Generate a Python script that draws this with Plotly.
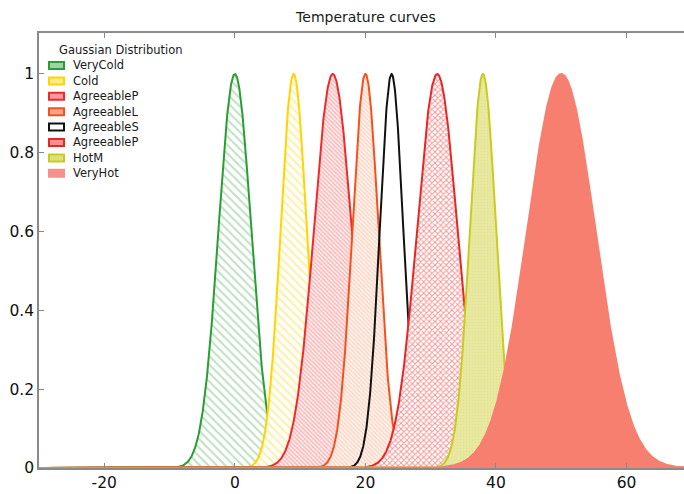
import numpy as np
import plotly.graph_objects as go

# Gaussian membership functions for temperature classes
names = ["VeryCold", "Cold", "AgreeableP", "AgreeableL", "AgreeableS", "AgreeableP", "HotM", "VeryHot"]
centers = [0, 9, 15, 20, 24, 31, 38, 50]
sigmas = [2.5, 2.0, 2.9, 2.0, 1.8, 3.1, 2.0, 5.2]

x_ticks = [-20, 0, 20, 40, 60]
x_tick_text = ["-20", "0", "20", "40", "60"]
y_ticks = [0, 0.2, 0.4, 0.6, 0.8, 1]
y_tick_text = ["0", "0.2", "0.4", "0.6", "0.8", "1"]

line_colors = ["#2a9d35", "#ffd400", "#ee2a2a", "#f4511e", "#111111", "#e82626", "#c9cc1e", "#f77f6f"]
swatch_fill = ["#9fd3a5", "#ffe98a", "#f79a9a", "#f9a58a", "#ffffff", "#f49090", "#dfe07a", "#f7908a"]
patterns = [
    dict(shape="\\", fgcolor="rgba(42,157,53,0.6)", bgcolor="white", size=6, solidity=0.35),
    dict(shape="\\", fgcolor="rgba(255,212,0,0.7)", bgcolor="white", size=6, solidity=0.35),
    dict(shape="\\", fgcolor="rgba(238,42,42,0.6)", bgcolor="#fff2f2", size=3, solidity=0.5),
    dict(shape="\\", fgcolor="rgba(244,100,50,0.5)", bgcolor="#fff6f0", size=3, solidity=0.45),
    None,
    dict(shape="x", fgcolor="rgba(232,38,38,0.95)", bgcolor="white", size=4, solidity=0.45),
    dict(shape=".", fgcolor="rgba(222,222,120,0.9)", bgcolor="#e8e8a4", size=3, solidity=0.3),
    None,
]
fill_colors = [None, None, None, None, "rgba(0,0,0,0)", None, None, "#f77f6f"]

x = np.linspace(-30, 70, 2001)

fig = go.Figure()
for i, name in enumerate(names):
    y = np.exp(-0.5 * ((x - centers[i]) / sigmas[i]) ** 2)
    kw = dict(fill="tozeroy")
    if patterns[i] is not None:
        kw["fillpattern"] = patterns[i]
        kw["fillcolor"] = "white"
    else:
        kw["fillcolor"] = fill_colors[i]
    fig.add_trace(go.Scatter(
        x=x, y=y, mode="lines", name=name, showlegend=False,
        line=dict(color=line_colors[i], width=2),
        hoverinfo="skip", **kw))

# Compact legend box in the upper-left corner (paper coordinates)
W, H = 684, 494
ML, MR, MT, MB = 39, 0, 33, 26
pw, ph = W - ML - MR, H - MT - MB


def px_x(p):
    return (p - ML) / pw


def px_y(p):
    return 1 - (p - MT) / ph


shapes = []
annotations = [dict(
    text="Gaussian Distribution", xref="paper", yref="paper",
    x=px_x(57), y=px_y(50), xanchor="left", yanchor="middle", showarrow=False,
    font=dict(size=11.5, color="#1a1a1a"))]
row0, step = 65.5, 15.4
for i, name in enumerate(names):
    cy = row0 + i * step
    border = line_colors[i] if i != 7 else swatch_fill[i]
    shapes.append(dict(
        type="rect", xref="paper", yref="paper",
        x0=px_x(49), x1=px_x(64), y0=px_y(cy - 3.5), y1=px_y(cy + 3.5),
        fillcolor=swatch_fill[i], line=dict(color=border, width=2)))
    annotations.append(dict(
        text=name, xref="paper", yref="paper",
        x=px_x(71), y=px_y(cy), xanchor="left", yanchor="middle", showarrow=False,
        font=dict(size=11.5, color="#1a1a1a")))

fig.update_layout(
    width=W, height=H,
    margin=dict(l=ML, r=MR, t=MT, b=MB),
    paper_bgcolor="white", plot_bgcolor="white",
    font=dict(family="DejaVu Sans", color="#1a1a1a"),
    title=dict(text="Temperature curves", x=0.535, xanchor="center", y=0.975, yanchor="top",
               font=dict(size=14, color="#1a1a1a")),
    showlegend=False,
    shapes=shapes, annotations=annotations,
)
fig.update_xaxes(
    range=[-30, 68.8], tickvals=x_ticks, ticktext=x_tick_text,
    showgrid=False, zeroline=False, showline=True, linecolor="#8a8a8a", linewidth=1.5,
    mirror="ticks", ticks="inside", ticklen=5, tickcolor="#8a8a8a",
    tickfont=dict(size=15.5, color="#111111"),
)
fig.update_yaxes(
    range=[0, 1.104], tickvals=y_ticks, ticktext=y_tick_text,
    showgrid=False, zeroline=False, showline=True, linecolor="#8a8a8a", linewidth=1.5,
    ticks="inside", ticklen=5, tickcolor="#8a8a8a",
    tickfont=dict(size=15.5, color="#111111"),
)

fig.write_html("out.html")
